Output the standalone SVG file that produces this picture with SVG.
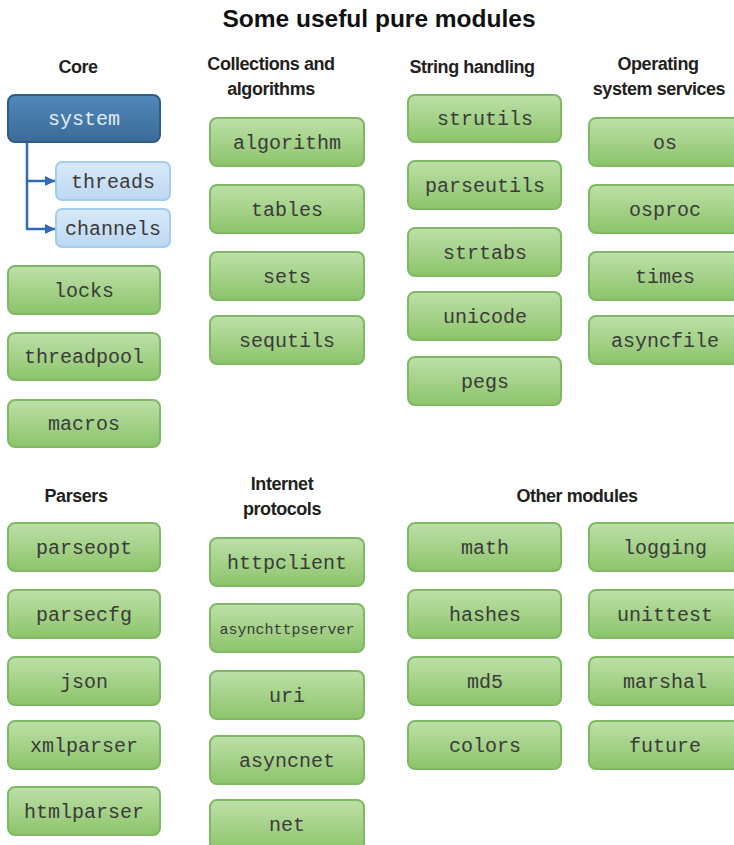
<svg xmlns="http://www.w3.org/2000/svg" width="734" height="845" viewBox="0 0 734 845">
<defs>
<linearGradient id="gGreen" x1="0" y1="0" x2="0" y2="1">
<stop offset="0" stop-color="#bde0a8"/>
<stop offset="1" stop-color="#8cc46a"/>
</linearGradient>
<linearGradient id="gBlue" x1="0" y1="0" x2="0" y2="1">
<stop offset="0" stop-color="#5089bb"/>
<stop offset="1" stop-color="#3b6a97"/>
</linearGradient>
<linearGradient id="gLight" x1="0" y1="0" x2="0" y2="1">
<stop offset="0" stop-color="#d8e9f8"/>
<stop offset="1" stop-color="#bcd8f1"/>
</linearGradient>
<marker id="arr" markerWidth="10" markerHeight="10" refX="10" refY="5" orient="auto" markerUnits="userSpaceOnUse">
<path d="M0,0 L10,5 L0,10 Z" fill="#2f6cb3"/>
</marker>
</defs>
<style>
.g{fill:url(#gGreen);stroke:#80b965;stroke-width:2}
.b{fill:url(#gBlue);stroke:#2f5d88;stroke-width:2}
.l{fill:url(#gLight);stroke:#a3cdf0;stroke-width:2}
.t{font-family:"Liberation Mono","DejaVu Sans Mono",monospace;font-size:20px;fill:#3a3a3a;text-anchor:middle}
.tw{fill:#e4ebf3}
.h{font-family:"Liberation Sans",Arial,sans-serif;font-weight:bold;font-size:18px;letter-spacing:-0.45px;fill:#231f20;text-anchor:middle}
.title{font-family:"Liberation Sans",Arial,sans-serif;font-weight:bold;font-size:24.5px;fill:#111;text-anchor:middle}
.c{fill:none;stroke:#2f6cb3;stroke-width:2.5}
</style>
<rect width="734" height="845" fill="#fff"/>
<text class="title" x="379" y="27">Some useful pure modules</text>
<g id="headers">
<text class="h" x="78" y="73">Core</text>
<text class="h" x="271" y="70">Collections and</text>
<text class="h" x="271" y="95">algorithms</text>
<text class="h" x="472" y="73">String handling</text>
<text class="h" x="658" y="70">Operating</text>
<text class="h" x="659" y="95">system services</text>
<text class="h" x="76" y="502">Parsers</text>
<text class="h" x="282" y="490">Internet</text>
<text class="h" x="282" y="515">protocols</text>
<text class="h" x="577" y="502">Other modules</text>
</g>
<g id="connectors">
<path class="c" d="M27,142 V229"/>
<path class="c" d="M26,181 H55" marker-end="url(#arr)"/>
<path class="c" d="M26,229 H55" marker-end="url(#arr)"/>
</g>
<g id="system"><rect class="b" x="8" y="95" width="152" height="47" rx="7"/><text class="t tw" x="84" y="125">system</text></g>
<g id="threads"><rect class="l" x="56" y="162" width="114" height="38" rx="6"/><text class="t" x="113" y="188">threads</text></g>
<g id="channels"><rect class="l" x="56" y="209" width="114" height="38" rx="6"/><text class="t" x="113" y="235">channels</text></g>
<g id="locks"><rect class="g" x="8" y="266" width="152" height="48" rx="7"/><text class="t" x="84" y="297">locks</text></g>
<g id="threadpool"><rect class="g" x="8" y="333" width="152" height="47" rx="7"/><text class="t" x="84" y="363">threadpool</text></g>
<g id="macros"><rect class="g" x="8" y="400" width="152" height="47" rx="7"/><text class="t" x="84" y="430">macros</text></g>
<g id="algorithm"><rect class="g" x="210" y="118" width="154" height="48" rx="7"/><text class="t" x="287" y="149">algorithm</text></g>
<g id="tables"><rect class="g" x="210" y="185" width="154" height="48" rx="7"/><text class="t" x="287" y="216">tables</text></g>
<g id="sets"><rect class="g" x="210" y="252" width="154" height="48" rx="7"/><text class="t" x="287" y="283">sets</text></g>
<g id="sequtils"><rect class="g" x="210" y="316" width="154" height="48" rx="7"/><text class="t" x="287" y="347">sequtils</text></g>
<g id="strutils"><rect class="g" x="408" y="95" width="153" height="47" rx="7"/><text class="t" x="485" y="125">strutils</text></g>
<g id="parseutils"><rect class="g" x="408" y="161" width="153" height="48" rx="7"/><text class="t" x="485" y="192">parseutils</text></g>
<g id="strtabs"><rect class="g" x="408" y="228" width="153" height="48" rx="7"/><text class="t" x="485" y="259">strtabs</text></g>
<g id="unicode"><rect class="g" x="408" y="292" width="153" height="48" rx="7"/><text class="t" x="485" y="323">unicode</text></g>
<g id="pegs"><rect class="g" x="408" y="357" width="153" height="48" rx="7"/><text class="t" x="485" y="388">pegs</text></g>
<g id="os"><rect class="g" x="589" y="118" width="153" height="48" rx="7"/><text class="t" x="665" y="149">os</text></g>
<g id="osproc"><rect class="g" x="589" y="185" width="153" height="48" rx="7"/><text class="t" x="665" y="216">osproc</text></g>
<g id="times"><rect class="g" x="589" y="252" width="153" height="48" rx="7"/><text class="t" x="665" y="283">times</text></g>
<g id="asyncfile"><rect class="g" x="589" y="316" width="153" height="48" rx="7"/><text class="t" x="665" y="347">asyncfile</text></g>
<g id="parseopt"><rect class="g" x="8" y="523" width="152" height="48" rx="7"/><text class="t" x="84" y="554">parseopt</text></g>
<g id="parsecfg"><rect class="g" x="8" y="590" width="152" height="48" rx="7"/><text class="t" x="84" y="621">parsecfg</text></g>
<g id="json"><rect class="g" x="8" y="657" width="152" height="48" rx="7"/><text class="t" x="84" y="688">json</text></g>
<g id="xmlparser"><rect class="g" x="8" y="721" width="152" height="48" rx="7"/><text class="t" x="84" y="752">xmlparser</text></g>
<g id="htmlparser"><rect class="g" x="8" y="787" width="152" height="48" rx="7"/><text class="t" x="84" y="818">htmlparser</text></g>
<g id="httpclient"><rect class="g" x="210" y="538" width="154" height="48" rx="7"/><text class="t" x="287" y="569">httpclient</text></g>
<g id="asynchttpserver"><rect class="g" x="210" y="604" width="154" height="48" rx="7"/><text class="t" x="287" y="634" style="font-size:15px">asynchttpserver</text></g>
<g id="uri"><rect class="g" x="210" y="671" width="154" height="48" rx="7"/><text class="t" x="287" y="702">uri</text></g>
<g id="asyncnet"><rect class="g" x="210" y="736" width="154" height="48" rx="7"/><text class="t" x="287" y="767">asyncnet</text></g>
<g id="net"><rect class="g" x="210" y="800" width="154" height="52" rx="7"/><text class="t" x="287" y="831">net</text></g>
<g id="math"><rect class="g" x="408" y="523" width="153" height="48" rx="7"/><text class="t" x="485" y="554">math</text></g>
<g id="hashes"><rect class="g" x="408" y="590" width="153" height="48" rx="7"/><text class="t" x="485" y="621">hashes</text></g>
<g id="md5"><rect class="g" x="408" y="657" width="153" height="48" rx="7"/><text class="t" x="485" y="688">md5</text></g>
<g id="colors"><rect class="g" x="408" y="721" width="153" height="48" rx="7"/><text class="t" x="485" y="752">colors</text></g>
<g id="logging"><rect class="g" x="589" y="523" width="153" height="48" rx="7"/><text class="t" x="665" y="554">logging</text></g>
<g id="unittest"><rect class="g" x="589" y="590" width="153" height="48" rx="7"/><text class="t" x="665" y="621">unittest</text></g>
<g id="marshal"><rect class="g" x="589" y="657" width="153" height="48" rx="7"/><text class="t" x="665" y="688">marshal</text></g>
<g id="future"><rect class="g" x="589" y="721" width="153" height="48" rx="7"/><text class="t" x="665" y="752">future</text></g>
</svg>
